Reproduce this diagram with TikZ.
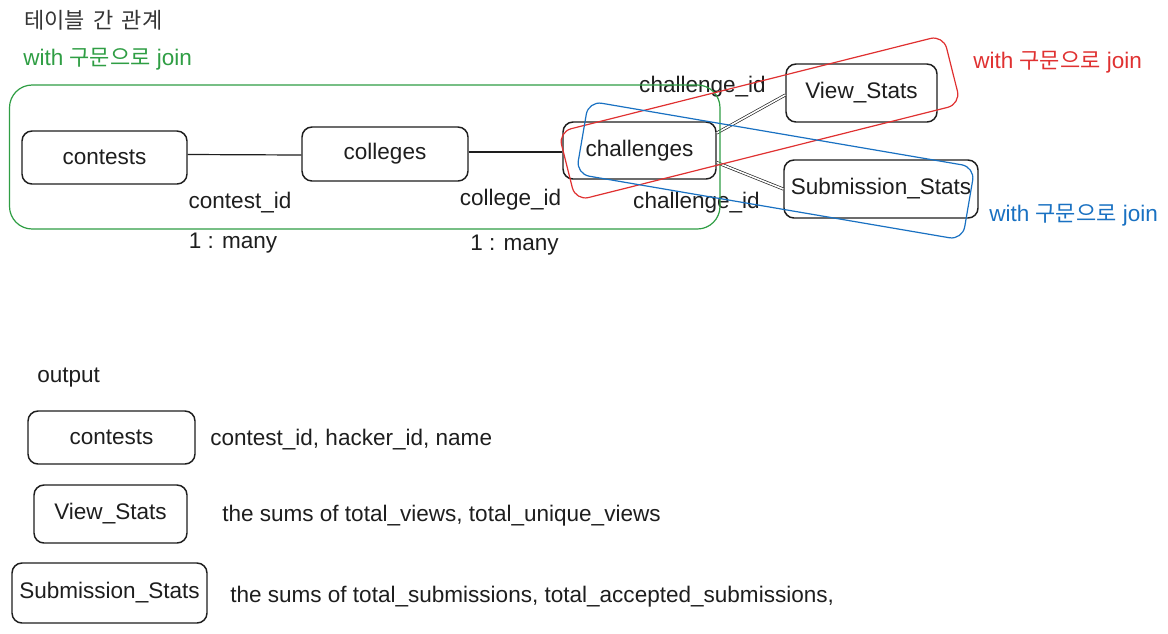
\documentclass[tikz,border=0pt]{standalone}
\usepackage{fontspec}
\setmainfont{Liberation Sans}
\newfontfamily\cjk{Noto Sans CJK KR}
\newfontfamily\cjktitle[WordSpace=1.7]{Noto Sans CJK KR}
\usetikzlibrary{calc}
\definecolor{ink}{HTML}{1E1E1E}
\definecolor{exgreen}{HTML}{2F9E44}
\definecolor{exred}{HTML}{E03131}
\definecolor{exblue}{HTML}{1971C2}
\def\pxu{0.75pt}
\newcommand\lab{\fontsize{16.9}{19}\selectfont}
\newcommand\kor{\fontsize{16.5}{19}\selectfont}
\begin{document}
\begin{tikzpicture}[x=0.75pt,y=-0.75pt,
  tbox/.style={draw=ink, line width=1.1pt, rounded corners=7.5pt, inner sep=0pt, font=\lab, text=ink},
  grp/.style={draw=#1, line width=0.9pt, inner sep=0pt},
  lbl/.style={font=\lab, text=ink, inner sep=0pt, anchor=base},
  note/.style={font=\lab, text=ink, inner sep=0pt, anchor=base west},
  grplbl/.style={font=\lab, text=#1, inner sep=0pt, anchor=base west},
  link/.style={draw=ink, line width=0.9pt},
  dlink/.style={draw=ink, line width=0.5pt, double=white, double distance=1.2pt}
]
\fill[white] (0,0) rectangle (1168,633);
\useasboundingbox (0,0) rectangle (1168,633);

% title
\node[anchor=base west, inner sep=0pt, text=ink!90, font=\cjktitle\kor] (title) at (24,28) {테이블 간 관계};

% group labels
\node[grplbl=exgreen] (glab) at (23,65) {with {\cjk\kor 구문으로} join};
\node[grplbl=exred] (rlab) at (973,68) {with {\cjk\kor 구문으로} join};
\node[grplbl=exblue] (blab) at (989,221) {with {\cjk\kor 구문으로} join};

% tables
\node[tbox, minimum width=165*\pxu, minimum height=53*\pxu] (contests) at (104.5,157.5) {contests};
\node[tbox, minimum width=166*\pxu, minimum height=54*\pxu] (colleges) at (385,154) {colleges};
\node[tbox, minimum width=153*\pxu, minimum height=57*\pxu] (challenges) at (639.5,150.5) {challenges};
\node[tbox, minimum width=151*\pxu, minimum height=58*\pxu] (views) at (861.5,93) {View\_Stats};
\node[tbox, minimum width=194*\pxu, minimum height=58*\pxu] (subs) at (881,189) {Submission\_Stats};

% connectors
\draw[link] ($(contests.east)+(0,-3)$) -- ($(colleges.west)+(0,1)$);
\draw[link] ($(colleges.east)+(0,-2)$) -- ($(challenges.west)+(0,1.5)$);
\draw[dlink] ($(challenges.east)+(0,-17.5)$) -- ($(views.west)+(0,2)$);
\draw[dlink] ($(challenges.east)+(0,12)$) -- (subs.west);

% connector labels
\node[lbl] (lcid) at (240,208) {contest\_id};
\node[lbl] (lcoid) at (510.5,205) {college\_id};
\node[lbl] (lm1) at (233,248) {1 : many};
\node[lbl] (lm2) at (514.5,250) {1 : many};
\node[lbl] (lch1) at (702.5,92) {challenge\_id};
\node[lbl] (lch2) at (696.5,208) {challenge\_id};

% groups
\node[grp=exgreen, rounded corners=17pt, minimum width=710.5*\pxu, minimum height=144*\pxu] (ggrp) at (364.75,157) {};
\node[grp=exred, rounded corners=10pt, minimum width=397*\pxu, minimum height=71*\pxu, rotate=14.1] (rgrp) at (759.5,118) {};
\node[grp=exblue, rounded corners=10pt, minimum width=392*\pxu, minimum height=74*\pxu, rotate=-9.7] (bgrp) at (775.5,170.5) {};

% output section
\node[note] (out) at (37,382) {output};
\node[tbox, minimum width=167*\pxu, minimum height=53*\pxu] (ocontests) at (111.5,437.5) {contests};
\node[tbox, minimum width=153*\pxu, minimum height=58*\pxu] (oviews) at (110.5,514) {View\_Stats};
\node[tbox, minimum width=195*\pxu, minimum height=60*\pxu] (osubs) at (109.5,593) {Submission\_Stats};
\node[note] (d1) at (210,445) {contest\_id, hacker\_id, name};
\node[note] (d2) at (222,521) {the sums of total\_views, total\_unique\_views};
\node[note] (d3) at (230,602) {the sums of total\_submissions, total\_accepted\_submissions,};
\end{tikzpicture}
\end{document}
